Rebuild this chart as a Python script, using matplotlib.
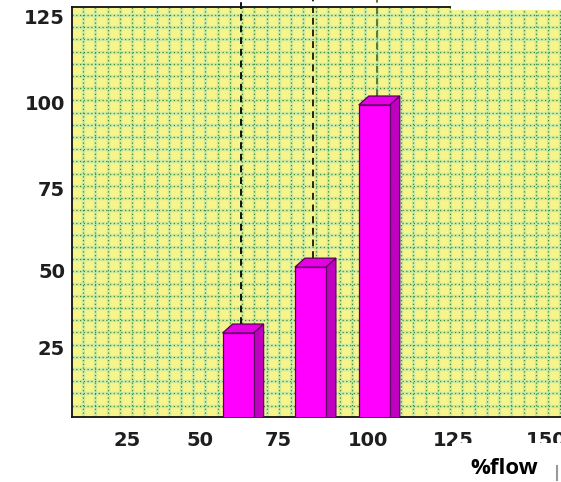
import numpy as np
import matplotlib
matplotlib.use("Agg")
import matplotlib.pyplot as plt
from matplotlib.patches import Polygon, Rectangle

# data
flow = [60.5, 82, 101]
heights = [29.6, 49.5, 98.5]
xtick_labels = ["25", "50", "75", "100", "125", "150"]
ytick_labels = ["25", "50", "75", "100", "125"]
line_colors = ["#111111", "#2b2410", "#5d7a2c"]

# where the labels sit on the original (it is not evenly spaced)
xtick_pos = [27.5, 49.3, 72.5, 99.1, 124.4, 152.1]
ytick_pos = [25.1, 48.6, 73.4, 99.1, 125.1]

W = 561
H = 482
fig = plt.figure(figsize=(W/100, H/100), dpi=100)
ax = fig.add_axes([72/W, 1 - 417/H, (W - 72)/W + 0.002, (417 - 7)/H])
ax.set_xlim(11.1, 156.9)
ax.set_ylim(4.2, 128.1)
ax.set_facecolor("#f7f48a")

# dotted grid, ~12 px apart
gx = np.arange(11.1 + 3.3, 157, 3.64)
gy = np.arange(128.1 - 2.4, 4.2, -3.69)
for v in gx:
    ax.axvline(v, color="#cdeca2", lw=2.4, zorder=0.5)
for v in gy:
    ax.axhline(v, color="#cdeca2", lw=2.4, zorder=0.5)
for v in gx:
    ax.axvline(v, color="#3f8a3a", lw=0.9, ls=(0, (1, 2)), zorder=0.6)
for v in gy:
    ax.axhline(v, color="#3f8a3a", lw=0.9, ls=(0, (1, 2)), zorder=0.6)

bw = 9.2
dx = 3.0
dy = 2.7
ax.bar(flow, heights, width=bw, bottom=0, color="#ff00ff",
       edgecolor="#5a005a", linewidth=0.9, zorder=3)
for x, h, c in zip(flow, heights, line_colors):
    x0 = x - bw/2
    x1 = x + bw/2
    side = Polygon([(x1, 0), (x1 + dx, dy), (x1 + dx, h + dy), (x1, h)],
                   closed=True, facecolor="#c000c0", edgecolor="#5a005a", lw=0.9, zorder=2.9)
    top = Polygon([(x0, h), (x0 + dx, h + dy), (x1 + dx, h + dy), (x1, h)],
                  closed=True, facecolor="#e600e6", edgecolor="#5a005a", lw=0.9, zorder=3.1)
    ax.add_patch(side)
    ax.add_patch(top)
    ax.plot([x + 0.8, x + 0.8], [h + dy, 130.2], color=c, lw=1.4,
            ls=(0, (3.5, 2.5)), zorder=2.5, clip_on=False)

ax.set_xticks(xtick_pos, xtick_labels)
ax.set_yticks(ytick_pos, ytick_labels)
ax.tick_params(length=0, labelsize=14, colors="#1e1e1e")
ax.tick_params(axis="x", pad=10)
ax.tick_params(axis="y", pad=5)
for lab in ax.get_xticklabels() + ax.get_yticklabels():
    lab.set_fontweight("bold")

ax.spines["right"].set_visible(False)
for s in ["left", "bottom", "top"]:
    ax.spines[s].set_color("#111111")
    ax.spines[s].set_linewidth(1.3)

# white boxes covering the corners
fig.patches.append(Rectangle((451/W, 1 - 10/H), (W - 451)/W, 10/H,
                             transform=fig.transFigure, facecolor="white",
                             edgecolor="none", zorder=5))
fig.patches.append(Rectangle((452/W, 0), (W - 452)/W, (H - 443)/H,
                             transform=fig.transFigure, facecolor="white",
                             edgecolor="none", zorder=5))
fig.text(504/W, 1 - 469/H, "%flow", ha="center", va="center",
         fontsize=16, fontweight="bold", family="Open Sans", zorder=6)
fig.add_artist(plt.Line2D([557/W, 557/W], [1 - 480/H, 1 - 466/H],
                          color="#999999", lw=1.5, zorder=6))

fig.savefig("out.png", dpi=100)
